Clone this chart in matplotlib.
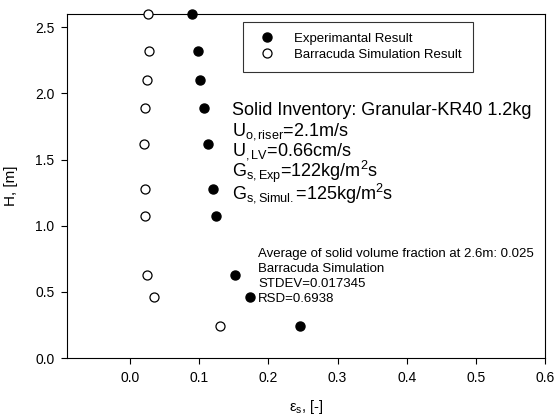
import matplotlib
matplotlib.use("Agg")
import matplotlib.pyplot as plt

plt.rcParams['font.family'] = ['Liberation Sans', 'DejaVu Sans']
plt.rcParams['mathtext.fontset'] = 'custom'
plt.rcParams['mathtext.rm'] = 'Liberation Sans'
plt.rcParams['mathtext.it'] = 'Liberation Sans:italic'

# heights [m]
height = [2.6, 2.32, 2.1, 1.89, 1.62, 1.28, 1.07, 0.63, 0.46, 0.24]
# solid volume fraction
eps_exp = [0.09, 0.098, 0.101, 0.107, 0.113, 0.1195, 0.125, 0.152, 0.173, 0.246]
eps_sim = [0.0255, 0.028, 0.0246, 0.0217, 0.0207, 0.021, 0.021, 0.0246, 0.035, 0.1295]

xticks = [0.0, 0.1, 0.2, 0.3, 0.4, 0.5, 0.6]
yticks = [0.0, 0.5, 1.0, 1.5, 2.0, 2.5]

fig = plt.figure(figsize=(5.54, 4.2), dpi=100)
ax = fig.add_axes([0.121, 0.1476, 0.863, 0.819])

ax.plot(eps_exp, height, 'o', color='black', ms=6.5, clip_on=False,
        zorder=3, label='Experimantal Result')
ax.plot(eps_sim, height, 'o', mfc='white', mec='black', mew=0.9, ms=6.5,
        clip_on=False, zorder=3, label='Barracuda Simulation Result')

ax.set_xlim(-0.091, 0.6)
ax.set_ylim(0, 2.6)
ax.set_xticks(xticks)
ax.set_xticklabels([f'{t:.1f}' for t in xticks])
ax.set_yticks(yticks)
ax.set_yticklabels([f'{t:.1f}' for t in yticks])
ax.tick_params(direction='out', labelsize=10, length=4, width=0.8, pad=5)
for s in ax.spines.values():
    s.set_linewidth(0.8)

ax.set_xlabel('ε$_\\mathrm{s}$, [-]', fontsize=10.5, labelpad=10)
ax.set_ylabel('H, [m]', fontsize=11, labelpad=12)

leg = ax.legend(loc='upper left', bbox_to_anchor=(0.368, 0.978), fontsize=9.5,
                frameon=True, fancybox=False, edgecolor='black',
                handletextpad=1.0, borderpad=0.85, labelspacing=0.25,
                handlelength=2.0, borderaxespad=0)
leg.get_frame().set_linewidth(0.8)

big = [
    'Solid Inventory: Granular-KR40 1.2kg',
    'U$_\\mathrm{o,riser}$=2.1m/s',
    'U$_\\mathrm{,LV}$=0.66cm/s',
    'G$_\\mathrm{s,Exp}$=122kg/m$^\\mathrm{2}$s',
    'G$_\\mathrm{s,Simul.}$=125kg/m$^\\mathrm{2}$s',
]
big_y = [115, 135, 155, 177, 198]
for t, yp in zip(big, big_y):
    ax.text((232 - 67) / 478, (358 - yp) / 344, t, transform=ax.transAxes,
            fontsize=13, va='baseline', ha='left')

small = [
    'Average of solid volume fraction at 2.6m: 0.025',
    'Barracuda Simulation',
    'STDEV=0.017345',
    'RSD=0.6938',
]
small_y = [257, 272, 287, 302]
for t, yp in zip(small, small_y):
    ax.text((258 - 67) / 478, (358 - yp) / 344, t, transform=ax.transAxes,
            fontsize=9.5, va='baseline', ha='left')

fig.savefig('out.png', dpi=100)
